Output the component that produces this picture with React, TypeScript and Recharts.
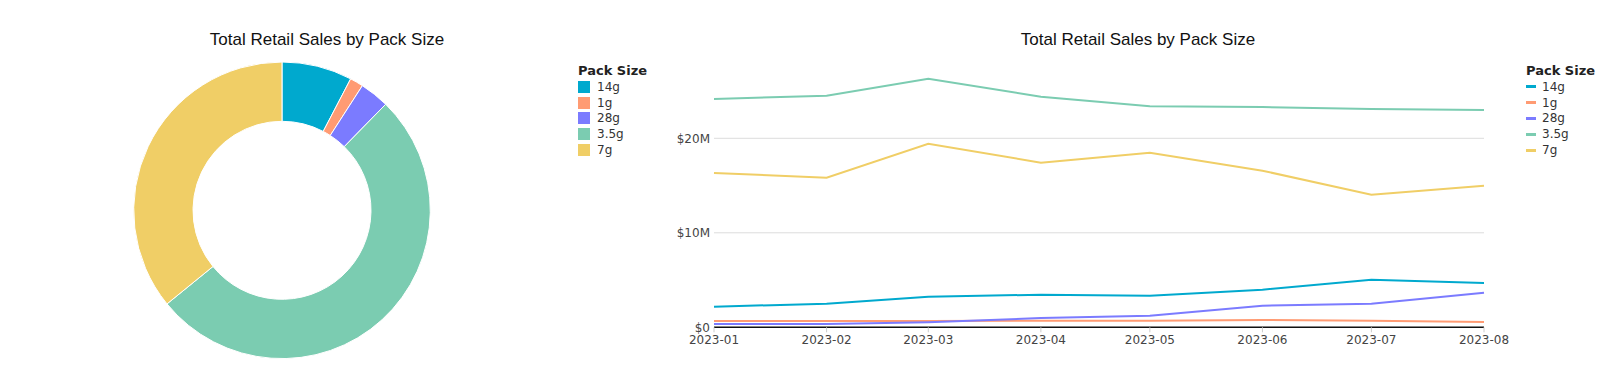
import React from 'react'
import { PieChart, Pie, Cell, LineChart, Line, XAxis, YAxis, CartesianGrid, Legend } from 'recharts'

// pack sizes in legend order
const packSizes = ['14g', '1g', '28g', '3.5g', '7g']
const packColors = ['#00A9CE', '#FF9B73', '#7B7BFF', '#7BCCB1', '#F0CE66']

const months = ['2023-01', '2023-02', '2023-03', '2023-04', '2023-05', '2023-06', '2023-07', '2023-08']

// monthly retail sales, $M
const sales14g = [2.18, 2.5, 3.24, 3.45, 3.34, 3.98, 5.04, 4.69]
const sales1g = [0.67, 0.67, 0.67, 0.7, 0.68, 0.77, 0.68, 0.56]
const sales28g = [0.35, 0.35, 0.53, 0.98, 1.23, 2.29, 2.5, 3.66]
const sales35g = [24.16, 24.5, 26.3, 24.4, 23.4, 23.3, 23.1, 23.0]
const sales7g = [16.33, 15.83, 19.43, 17.42, 18.48, 16.57, 14.03, 14.98]

const yTicks = [0, 10, 20]

const seriesBySize: Record<string, number[]> = {
  '14g': sales14g,
  '1g': sales1g,
  '28g': sales28g,
  '3.5g': sales35g,
  '7g': sales7g,
}

const lineData = months.map((m, i) => {
  const row: Record<string, number | string> = { t: Date.parse(m + '-01'), month: m }
  packSizes.forEach((p) => {
    row[p] = seriesBySize[p][i] * 1e6
  })
  return row
})

const pieData = packSizes.map((p) => ({
  name: p,
  value: seriesBySize[p].reduce((a, b) => a + b, 0),
}))

const tickFont = { fontFamily: 'DejaVu Sans', fontSize: 12, fill: '#444' }

const formatMoney = (v: number) => (v === 0 ? '$0' : `$${Math.round(v / 1e6)}M`)
const formatMonth = (t: number) => {
  const d = new Date(t)
  return `${d.getUTCFullYear()}-${String(d.getUTCMonth() + 1).padStart(2, '0')}`
}

function PackLegend({ kind }: { kind: 'rect' | 'line' }) {
  return (
    <div style={{ fontFamily: 'DejaVu Sans', whiteSpace: 'nowrap' }}>
      <div style={{ fontWeight: 'bold', fontSize: 13, lineHeight: '16px', color: '#222' }}>Pack Size</div>
      {packSizes.map((p, i) => (
        <div key={p} style={{ display: 'flex', alignItems: 'center', height: 15.8, fontSize: 12, color: '#333' }}>
          {kind === 'rect' ? (
            <span style={{ width: 12, height: 12, background: packColors[i], display: 'inline-block' }} />
          ) : (
            <span style={{ width: 10, height: 3, background: packColors[i], display: 'inline-block' }} />
          )}
          <span style={{ marginLeft: kind === 'rect' ? 7 : 6 }}>{p}</span>
        </div>
      ))}
    </div>
  )
}

const titleStyle: React.CSSProperties = {
  position: 'absolute',
  top: 30,
  fontFamily: 'Liberation Sans',
  fontSize: 17,
  lineHeight: '20px',
  color: '#111',
  whiteSpace: 'nowrap',
  transform: 'translateX(-50%)',
}

export default function App() {
  return (
    <div style={{ position: 'absolute', left: 0, top: 0, width: 1617, height: 381, background: '#fff' }}>
      <div style={{ ...titleStyle, left: 327 }}>Total Retail Sales by Pack Size</div>
      <div style={{ ...titleStyle, left: 1138 }}>Total Retail Sales by Pack Size</div>

      <div style={{ position: 'absolute', left: 0, top: 0 }}>
        <PieChart width={640} height={381} margin={{ top: 0, right: 0, bottom: 0, left: 0 }}>
          <Pie
            data={pieData}
            dataKey="value"
            nameKey="name"
            cx={282}
            cy={210.3}
            outerRadius={148.3}
            innerRadius={89}
            startAngle={90}
            endAngle={-270}
            stroke="#fff"
            strokeWidth={1}
            isAnimationActive={false}
          >
            {pieData.map((d, i) => (
              <Cell key={d.name} fill={packColors[i]} />
            ))}
          </Pie>
          <Legend
            layout="vertical"
            align="center"
            verticalAlign="middle"
            wrapperStyle={{ left: 578, top: 63, width: 'auto', height: 'auto' }}
            content={() => <PackLegend kind="rect" />}
          />
        </PieChart>
      </div>

      <div style={{ position: 'absolute', left: 640, top: 0 }}>
        <LineChart width={977} height={381} data={lineData} margin={{ top: 62.7, right: 133, bottom: 23.7, left: 0 }}>
          <CartesianGrid
            vertical={false}
            stroke="#dcdcdc"
            horizontalValues={yTicks.map((v) => v * 1e6)}
          />
          <XAxis
            dataKey="t"
            type="number"
            scale="time"
            domain={['dataMin', 'dataMax']}
            ticks={lineData.map((d) => d.t as number)}
            tickFormatter={formatMonth}
            height={30}
            axisLine={{ stroke: '#111', strokeWidth: 1.5 }}
            tickLine={{ stroke: '#ccc' }}
            tickSize={5}
            tickMargin={3}
            tick={tickFont}
            interval={0}
          />
          <YAxis
            domain={[0, 28e6]}
            ticks={yTicks.map((v) => v * 1e6)}
            tickFormatter={formatMoney}
            width={74}
            axisLine={false}
            tickLine={false}
            tickSize={0}
            tickMargin={4}
            tick={tickFont}
          />
          {packSizes.map((p, i) => (
            <Line
              key={p}
              dataKey={p}
              stroke={packColors[i]}
              strokeWidth={2}
              dot={false}
              activeDot={false}
              isAnimationActive={false}
            />
          ))}
          <Legend
            layout="vertical"
            align="center"
            verticalAlign="middle"
            wrapperStyle={{ left: 886, top: 63, width: 'auto', height: 'auto' }}
            content={() => <PackLegend kind="line" />}
          />
        </LineChart>
      </div>
    </div>
  )
}
